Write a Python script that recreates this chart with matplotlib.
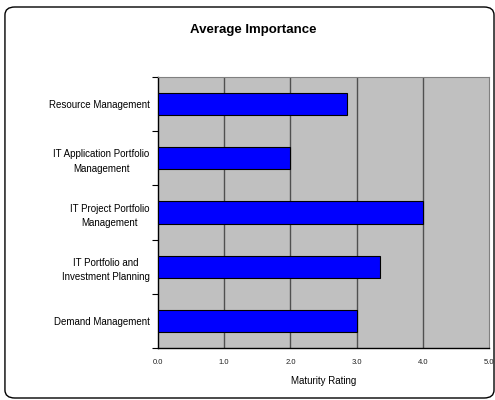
import matplotlib
matplotlib.use("Agg")
import matplotlib.pyplot as plt
from matplotlib.patches import FancyBboxPatch
import numpy as np

categories = ["Resource Management", "IT Application Portfolio\nManagement",
              "IT Project Portfolio\nManagement", "IT Portfolio and\nInvestment Planning",
              "Demand Management"]
values = [2.85, 2.0, 4.0, 3.35, 3.0]
xticks = [0.0, 1.0, 2.0, 3.0, 4.0, 5.0]
xticklabels = ["0.0", "1.0", "2.0", "3.0", "4.0", "5.0"]

plt.rcParams['font.family'] = ['Liberation Sans', 'DejaVu Sans']

fig = plt.figure(figsize=(4.95, 4.0), dpi=100)
border = FancyBboxPatch((0.010, 0.005), 0.988, 0.9775, boxstyle="round,pad=0,rounding_size=0.02",
                        transform=fig.transFigure, facecolor='none', edgecolor='black',
                        linewidth=1.0, zorder=10)
fig.patches.append(border)

ax = fig.add_axes([0.319, 0.13, 0.669, 0.6775])
ax.set_facecolor('#c0c0c0')
n = len(categories)
y = np.arange(n)[::-1]
ax.barh(y, values, height=0.41, color='#0000ff', edgecolor='black', linewidth=0.8, zorder=3)
ax.set_xlim(0, 5)
ax.set_ylim(-0.5, n - 0.5)
ax.set_xticks(xticks)
ax.set_xticklabels(xticklabels, fontsize=5.5, color='#202020')
ax.set_yticks(y)
ax.set_yticklabels(categories, fontsize=7, multialignment='center', linespacing=1.6)
ax.set_yticks(np.arange(-0.5, n, 1.0), minor=True)
ax.tick_params(axis='y', which='major', length=0, pad=6)
ax.tick_params(axis='y', which='minor', length=4, width=0.8, direction='out')
ax.tick_params(axis='x', length=0, pad=8)
for xv in xticks[1:-1]:
    ax.axvline(xv, color='#505050', linewidth=1.0, zorder=1)
for s in ['top', 'right']:
    ax.spines[s].set_color('#808080')
for s in ['left', 'bottom']:
    ax.spines[s].set_color('black')
    ax.spines[s].set_linewidth(1.0)
ax.set_xlabel("Maturity Rating", fontsize=7, labelpad=7)
fig.text(0.511, 0.925, "Average Importance", ha='center', va='center', fontsize=9.5, fontweight='bold')
fig.savefig("out.png", dpi=100)
